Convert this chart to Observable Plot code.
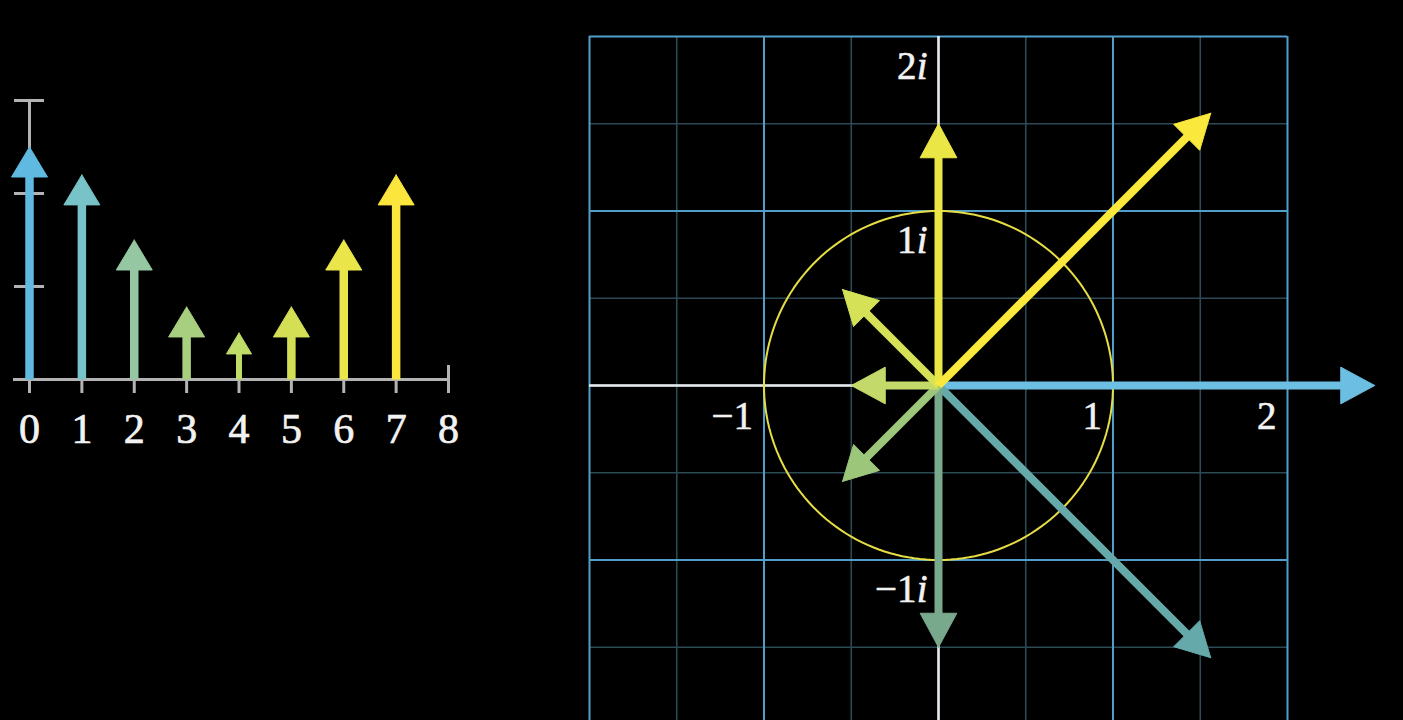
<!DOCTYPE html>
<html>
<head>
<meta charset="utf-8">
<script src="https://cdn.jsdelivr.net/npm/d3@7"></script>
<script src="https://cdn.jsdelivr.net/npm/@observablehq/plot@0.6"></script>
<style>
  html, body { margin: 0; padding: 0; background: #000; }
  #wrap { position: relative; width: 1403px; height: 720px; background: #000; overflow: hidden; }
  #left, #right { position: absolute; left: 0; top: 0; width: 1403px; height: 720px; }
</style>
</head>
<body>
<div id="wrap"><div id="left"></div><div id="right"></div></div>
<script>
// ---------- data ----------
// Left panel: magnitude of each sample (stem arrows)
const sampleIndex = [0, 1, 2, 3, 4, 5, 6, 7];
const sampleMagnitude = [2.5, 2.2, 1.5, 0.78, 0.5, 0.78, 1.5, 2.2];
const xTickValues = [0, 1, 2, 3, 4, 5, 6, 7, 8];
const yTickValues = [1, 2, 3];

// Right panel: complex values (real, imaginary) of each arrow
const arrowRe = [2.5, 1.56, 0, -0.55, -0.5, -0.55, 0, 1.56];
const arrowIm = [0, -1.56, -1.5, -0.55, 0, 0.55, 1.5, 1.56];
const realLabels = [-1, 1, 2];
const imagLabels = [2, 1, -1];
const majorGrid = [-2, -1, 0, 1, 2];
const minorGrid = [-1.5, -0.5, 0.5, 1.5];
const circleRadius = 1;

// ---------- styles ----------
const leftColors = ["#5fb9e0", "#78c3c8", "#94c7a2", "#a8cf7f", "#bfdb68", "#d4df56", "#eae64a", "#fce63d"];
const rightColors = ["#6cbfe2", "#66a9aa", "#79a98d", "#9cc77a", "#c3da6a", "#d5e156", "#eae645", "#fbe83c"];
const serif = "'Liberation Serif', 'DejaVu Serif', serif";
const textColor = "#f2f2f2";
const axisGray = "#b3b3b3";

function buildArrow(x0, y0, x1, y1, kx, ky, opt) {
  const dx = (x1 - x0) * kx, dy = (y1 - y0) * ky, L = Math.hypot(dx, dy);
  const ux = dx / L, uy = dy / L;
  const h = Math.min(opt.head, opt.ratio * L), w = h * opt.aspect;
  const bx = x1 - ux * h / kx, by = y1 - uy * h / ky;
  const nx = -uy, ny = ux;
  return {
    shaft: {x1: x0, y1: y0, x2: x1 - ux * (h - 2) / kx, y2: y1 - uy * (h - 2) / ky},
    head: [
      {x: x1, y: y1},
      {x: bx + nx * w / 2 / kx, y: by + ny * w / 2 / ky},
      {x: bx - nx * w / 2 / kx, y: by - ny * w / 2 / ky},
      {x: x1, y: y1}
    ],
    width: Math.min(opt.stroke, opt.strokeRatio * L)
  };
}

function arrowMarks(arrows, colors) {
  return arrows.flatMap((a, i) => [
    Plot.link([a.shaft], {x1: "x1", y1: "y1", x2: "x2", y2: "y2", stroke: colors[i], strokeWidth: a.width, strokeLinecap: "butt"}),
    Plot.line(a.head, {x: "x", y: "y", fill: colors[i], stroke: colors[i], strokeWidth: 1, strokeLinejoin: "miter", curve: "linear"})
  ]);
}

// ---------- left panel ----------
const LX = {domain: [0, 8], range: [29, 448]};
const LY = {domain: [0, 3], range: [379, 100]};
const lkx = (LX.range[1] - LX.range[0]) / (LX.domain[1] - LX.domain[0]);
const lky = (LY.range[0] - LY.range[1]) / (LY.domain[1] - LY.domain[0]);
const leftArrows = sampleIndex.map((k, i) =>
  buildArrow(k, 0, k, sampleMagnitude[i], lkx, lky, {head: 30, aspect: 1.2, ratio: 0.45, stroke: 8.5, strokeRatio: 0.13}));

const left = Plot.plot({
  width: 1403, height: 720,
  margin: 0,
  x: {...LX, axis: null},
  y: {...LY, axis: null},
  style: {background: "transparent"},
  marks: [
    Plot.ruleY([0], {x1: -16 / lkx, x2: 8, stroke: axisGray, strokeWidth: 3}),
    Plot.ruleX(xTickValues, {y1: -14 / lky, y2: 14 / lky, stroke: axisGray, strokeWidth: 3}),
    Plot.ruleX([0], {y1: 0, y2: 3, stroke: axisGray, strokeWidth: 3}),
    Plot.ruleY(yTickValues, {x1: -15 / lkx, x2: 15 / lkx, stroke: axisGray, strokeWidth: 3}),
    ...arrowMarks(leftArrows, leftColors),
    Plot.text(xTickValues, {x: d => d, y: 0, text: d => String(d), dy: 50, fontSize: 42, fill: textColor, stroke: textColor, strokeWidth: 0.7, fontFamily: serif, textAnchor: "middle"})
  ]
});
document.getElementById("left").append(left);

// ---------- right panel ----------
const RX = {domain: [-2, 2], range: [589, 1287]};
const RY = {domain: [-2, 2], range: [734, 36]};
const rk = (RX.range[1] - RX.range[0]) / (RX.domain[1] - RX.domain[0]);
const rightArrows = arrowRe.map((re, i) =>
  buildArrow(0, 0, re, arrowIm[i], rk, rk, {head: 34, aspect: 1.08, ratio: 0.4, stroke: 8, strokeRatio: 0.1}));
const circlePts = d3.range(0, 361, 2).map(a => ({x: circleRadius * Math.cos(a * Math.PI / 180), y: circleRadius * Math.sin(a * Math.PI / 180)}));
const fmt = d => (d < 0 ? "\u2212" : "") + Math.abs(d);

const right = Plot.plot({
  width: 1403, height: 720,
  margin: 0,
  x: {...RX, axis: null},
  y: {...RY, axis: null},
  style: {background: "transparent"},
  marks: [
    Plot.ruleX(minorGrid, {y1: -2, y2: 2, stroke: "#2c4a56", strokeWidth: 1.6}),
    Plot.ruleY(minorGrid, {x1: -2, x2: 2, stroke: "#2c4a56", strokeWidth: 1.6}),
    Plot.ruleX(majorGrid, {y1: -2, y2: 2, stroke: "#519fc8", strokeWidth: 2}),
    Plot.ruleY(majorGrid, {x1: -2, x2: 2, stroke: "#519fc8", strokeWidth: 2}),
    Plot.ruleY([0], {x1: -2, x2: 2, stroke: "#e8e8e8", strokeWidth: 2.5}),
    Plot.ruleX([0], {y1: -2, y2: 2, stroke: "#e8e8e8", strokeWidth: 2.5}),
    Plot.line(circlePts, {x: "x", y: "y", stroke: "#e6dd45", strokeWidth: 2}),
    ...arrowMarks(rightArrows, rightColors),
    Plot.text(realLabels, {x: d => d, y: 0, text: fmt, dx: -11, dy: 31, textAnchor: "end", fontSize: 39, fill: textColor, stroke: textColor, strokeWidth: 0.6, fontFamily: serif}),
    Plot.text(imagLabels, {x: 0, y: d => d, text: fmt, dx: -22, dy: 30, textAnchor: "end", fontSize: 39, fill: textColor, stroke: textColor, strokeWidth: 0.6, fontFamily: serif}),
    Plot.text(imagLabels, {x: 0, y: d => d, text: () => "i", dx: -11, dy: 30, textAnchor: "end", fontSize: 39, fill: textColor, stroke: textColor, strokeWidth: 0.6, fontFamily: serif, fontStyle: "italic"})
  ]
});
document.getElementById("right").append(right);
</script>
</body>
</html>
